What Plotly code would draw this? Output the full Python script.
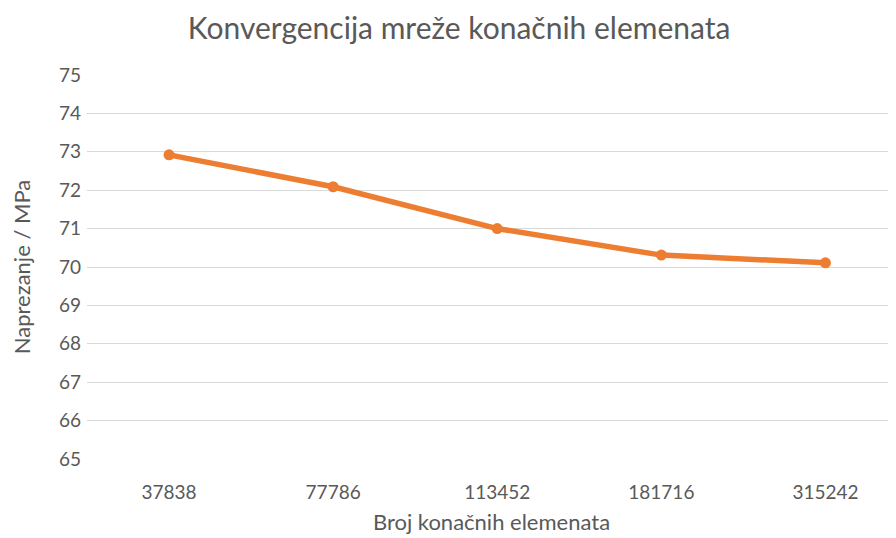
import plotly.graph_objects as go

broj_elemenata = ["37838", "77786", "113452", "181716", "315242"]
naprezanje = [72.92, 72.09, 71.0, 70.31, 70.11]
y_ticks = [65, 66, 67, 68, 69, 70, 71, 72, 73, 74, 75]

font_family = "Lato, Open Sans, sans-serif"
grey = "#595959"

fig = go.Figure()
fig.add_trace(go.Scatter(
    x=broj_elemenata, y=naprezanje, mode="lines+markers",
    line=dict(color="#ED7D31", width=5.5),
    marker=dict(color="#ED7D31", size=11),
    showlegend=False,
))

# page body has an 8px margin, so the figure is shrunk by that amount
fig.update_layout(
    width=888, height=530,
    margin=dict(l=79, r=0, t=67, b=79),
    paper_bgcolor="white", plot_bgcolor="white",
    font=dict(family=font_family, color=grey),
    title=dict(text="Konvergencija mreže konačnih elemenata", x=0.508, xanchor="center",
               y=0.962, yanchor="middle", font=dict(size=30, color=grey)),
)
fig.update_xaxes(
    type="category", range=[-0.5, 4.43], showgrid=False, showline=False, ticks="",
    tickfont=dict(size=19, color=grey), ticklabelstandoff=20,
    title=dict(text="Broj konačnih elemenata", font=dict(size=22, color=grey), standoff=12),
)
fig.update_yaxes(
    range=[65, 75], tickvals=y_ticks, showgrid=True, gridcolor="#d9d9d9", gridwidth=1,
    zeroline=False, showline=False, ticks="", ticklabelstandoff=5,
    tickfont=dict(size=19, color=grey),
    title=dict(text="Naprezanje / MPa", font=dict(size=22, color=grey), standoff=22),
)

fig.write_html("out.html")
